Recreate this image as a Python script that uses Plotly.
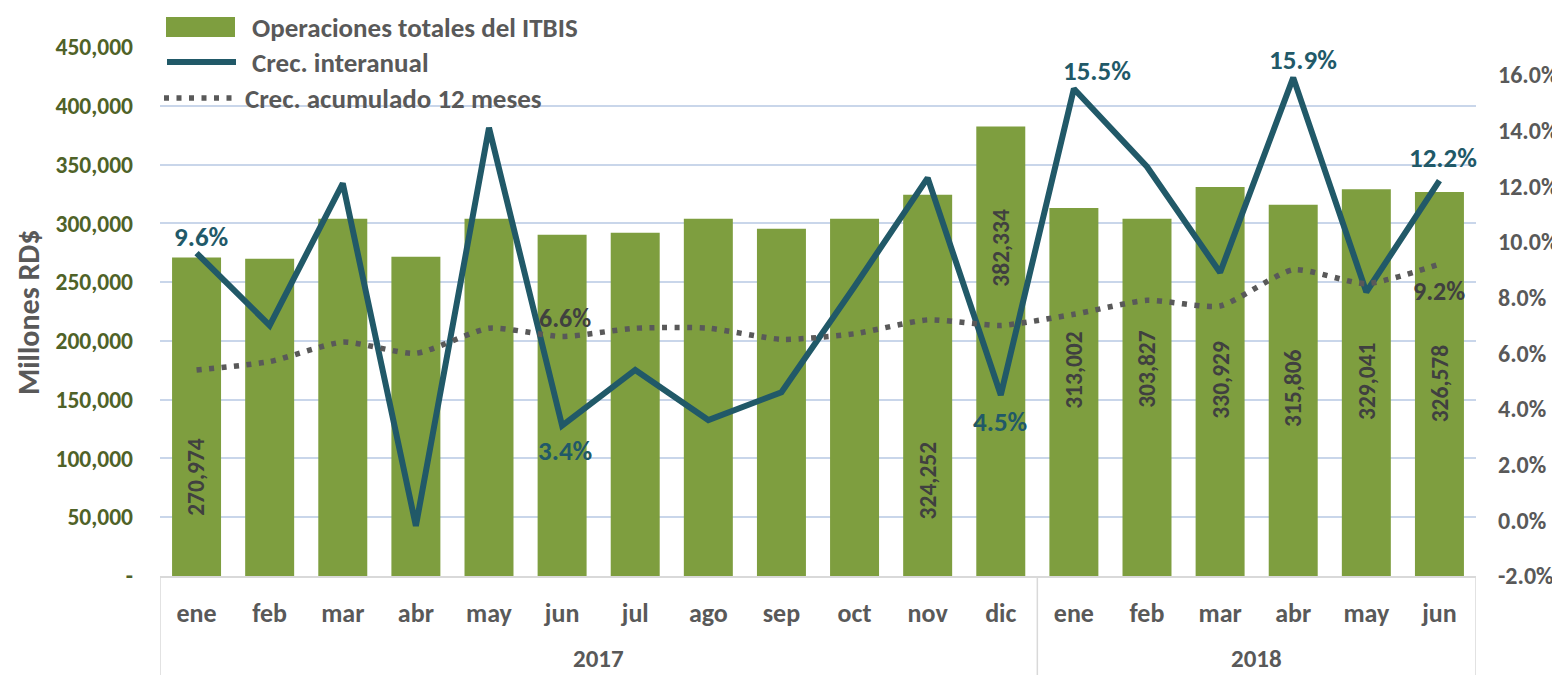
import plotly.graph_objects as go

# ---------------- data ----------------
months = ["ene", "feb", "mar", "abr", "may", "jun", "jul", "ago", "sep", "oct", "nov", "dic",
          "ene", "feb", "mar", "abr", "may", "jun"]
years = ["2017"] * 12 + ["2018"] * 6
itbis = [270974, 269800, 303800, 271600, 303800, 290200, 291900, 303800, 295300, 303800,
         324252, 382334, 313002, 303827, 330929, 315806, 329041, 326578]
crec_interanual = [9.6, 7.0, 12.1, -0.2, 14.1, 3.4, 5.4, 3.6, 4.6, 8.4, 12.3, 4.5,
                   15.5, 12.7, 8.9, 15.9, 8.2, 12.2]
crec_acumulado = [5.4, 5.7, 6.4, 6.0, 6.9, 6.6, 6.9, 6.9, 6.5, 6.7, 7.2, 7.0,
                  7.4, 7.9, 7.7, 9.0, 8.5, 9.2]

left_ticks = [0, 50000, 100000, 150000, 200000, 250000, 300000, 350000, 400000, 450000]
right_ticks = [-2, 0, 2, 4, 6, 8, 10, 12, 14, 16]

# which points carry a data label (and label placement styling)
bar_label_idx = [0, 10, 11, 12, 13, 14, 15, 16, 17]
bar_label_frac = [0.31, 0.25, 0.73, 0.56, 0.58, 0.505, 0.507, 0.505, 0.503]
ia_label_idx = [0, 5, 11, 12, 15, 17]
ia_label_shift = [(5, 17), (3, -25), (0, -26), (23, 18), (10, 18), (4, 23)]
ac_label_idx = [5, 17]
ac_label_shift = [(3, 19), (0, -27)]

# ---------------- style ----------------
FONT = "Carlito, Lato, sans-serif"
GREEN = "#7E9E3F"
TEAL = "#215968"
GRAY = "#595959"
DARK = "#404040"
OLIVE = "#4F6228"
GRID = "#C9D6EA"
AXIS = "#D9D9D9"

OFF = 8                       # page body margin in the browser
W, H = 1560 - OFF, 675 - OFF
PL, PR, PT, PB = 160, 1476, 47, 576   # plot area in screen pixels
ML, MR, MT, MB = PL - OFF, W - (PR - OFF), PT - OFF, H - (PB - OFF)
PW, PH = PR - PL, PB - PT


def px_x(px):
    return (px - PL) / PW


def px_y(py):
    return (PB - py) / PH


idx = list(range(len(months)))

fig = go.Figure()
fig.add_trace(go.Bar(
    x=idx, y=itbis, name="Operaciones totales del ITBIS",
    marker=dict(color=GREEN, line=dict(width=0)),
    width=0.67, yaxis="y", showlegend=False,
))
fig.add_trace(go.Scatter(
    x=idx, y=crec_interanual, name="Crec. interanual", mode="lines",
    line=dict(color=TEAL, width=6), yaxis="y2", showlegend=False,
))
fig.add_trace(go.Scatter(
    x=idx, y=crec_acumulado, name="Crec. acumulado 12 meses", mode="lines",
    line=dict(color=GRAY, width=5.5, dash="5px,7.5px", shape="spline", smoothing=0.6),
    yaxis="y2", showlegend=False,
))

annotations = []
# bar labels
for i, f in zip(bar_label_idx, bar_label_frac):
    annotations.append(dict(
        x=i, y=itbis[i] * f, xref="x", yref="y", text=f"{itbis[i]:,}",
        textangle=-90, showarrow=False, xanchor="center", yanchor="middle",
        font=dict(family=FONT, size=23.5, color=DARK, weight=700),
    ))
# interanual labels
for i, (dx, dy) in zip(ia_label_idx, ia_label_shift):
    annotations.append(dict(
        x=i, y=crec_interanual[i], xref="x", yref="y2", text=f"{crec_interanual[i]:.1f}%",
        showarrow=False, xshift=dx, yshift=dy, xanchor="center", yanchor="middle",
        font=dict(family=FONT, size=27, color=TEAL, weight=700),
    ))
# acumulado labels
for i, (dx, dy) in zip(ac_label_idx, ac_label_shift):
    annotations.append(dict(
        x=i, y=crec_acumulado[i], xref="x", yref="y2", text=f"{crec_acumulado[i]:.1f}%",
        showarrow=False, xshift=dx, yshift=dy, xanchor="center", yanchor="middle",
        font=dict(family=FONT, size=26, color=DARK, weight=700),
    ))

# year group labels and dividers
shapes = []
groups = []
for yv in dict.fromkeys(years):
    members = [i for i, y in enumerate(years) if y == yv]
    groups.append((yv, members))
bounds = {-0.5}
for yv, members in groups:
    annotations.append(dict(
        x=sum(members) / len(members), y=px_y(658), xref="x", yref="paper",
        text=yv, showarrow=False, xanchor="center", yanchor="middle",
        font=dict(family=FONT, size=25, color=GRAY, weight=700),
    ))
    bounds.add(max(members) + 0.5)
for b in sorted(bounds):
    shapes.append(dict(type="line", xref="x", yref="paper", x0=b, x1=b,
                       y0=0, y1=px_y(680), line=dict(color=AXIS, width=1.5)))

# axis title
annotations.append(dict(
    x=px_x(28), y=px_y(313), xref="paper", yref="paper", text="Millones RD$",
    textangle=-90, showarrow=False, xanchor="center", yanchor="middle",
    font=dict(family=FONT, size=30, color=GRAY, weight=700),
))

# manual legend
leg_font = dict(family=FONT, size=27, color=GRAY, weight=700)
leg_rows = [27, 62, 98]
shapes.append(dict(type="rect", xref="paper", yref="paper",
                   x0=px_x(166), x1=px_x(235), y0=px_y(leg_rows[0] + 10), y1=px_y(leg_rows[0] - 10),
                   fillcolor=GREEN, line=dict(width=0)))
shapes.append(dict(type="line", xref="paper", yref="paper",
                   x0=px_x(167), x1=px_x(236), y0=px_y(leg_rows[1]), y1=px_y(leg_rows[1]),
                   line=dict(color=TEAL, width=6)))
shapes.append(dict(type="line", xref="paper", yref="paper",
                   x0=px_x(164), x1=px_x(234), y0=px_y(leg_rows[2]), y1=px_y(leg_rows[2]),
                   line=dict(color=GRAY, width=5.5, dash="5px,7.5px")))
for txt, xx, yy in [("Operaciones totales del ITBIS", 250, leg_rows[0]),
                    ("Crec. interanual", 250, leg_rows[1]),
                    ("Crec. acumulado 12 meses", 243, leg_rows[2])]:
    annotations.append(dict(
        x=px_x(xx), y=px_y(yy), xref="paper", yref="paper", text=txt,
        xanchor="left", yanchor="middle", showarrow=False, font=leg_font,
    ))

fig.update_layout(
    width=W, height=H,
    margin=dict(l=ML, r=MR, t=MT, b=MB, pad=0, autoexpand=False),
    paper_bgcolor="white", plot_bgcolor="white",
    font=dict(family=FONT),
    bargap=0.33,
    xaxis=dict(
        range=[-0.5, 17.5], tickvals=idx, ticktext=months, ticks="",
        tickfont=dict(family=FONT, size=26, color=GRAY, weight=700),
        ticklabelstandoff=13, automargin=False,
        showgrid=False, zeroline=False,
        showline=True, linecolor=AXIS, linewidth=1.5,
        fixedrange=True,
    ),
    yaxis=dict(
        range=[0, 450000], tickvals=left_ticks,
        ticktext=["-"] + [f"{v:,}" for v in left_ticks[1:]],
        tickfont=dict(family=FONT, size=23.5, color=OLIVE, weight=700),
        ticks="", ticklabelstandoff=26, automargin=False,
        showgrid=True, gridcolor=GRID, gridwidth=2,
        zeroline=False, showline=False,
    ),
    yaxis2=dict(
        range=[-2, 17], overlaying="y", side="right", anchor="x",
        tickvals=right_ticks, ticktext=[f"{v:.1f}%" for v in right_ticks],
        tickfont=dict(family=FONT, size=24, color=GRAY, weight=700),
        ticks="", ticklabelstandoff=21, automargin=False,
        showgrid=False, zeroline=False, showline=False,
    ),
    shapes=shapes,
    annotations=annotations,
    showlegend=False,
)

fig.write_html("out.html")
